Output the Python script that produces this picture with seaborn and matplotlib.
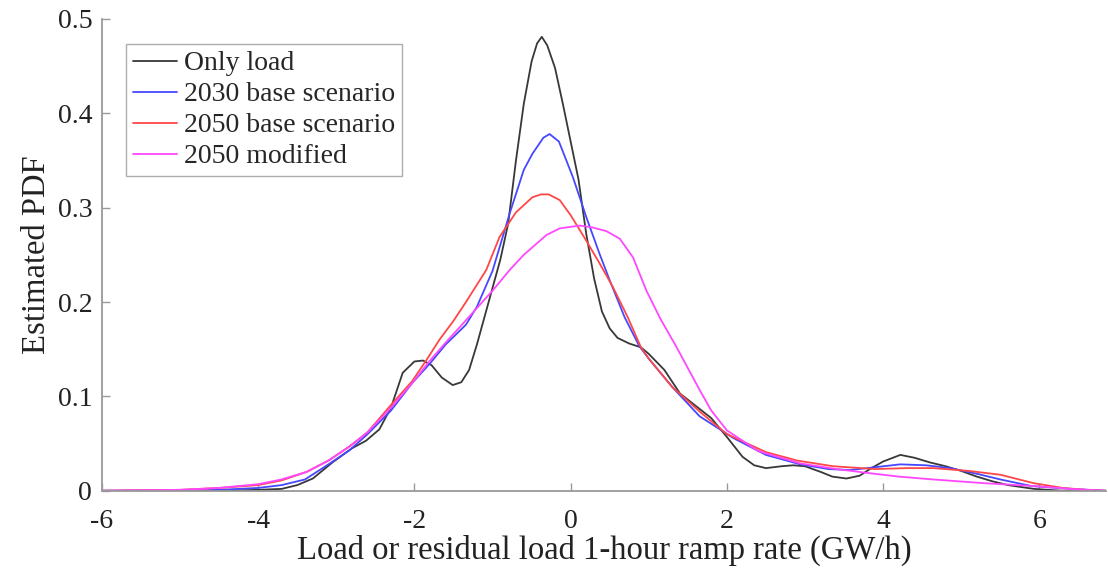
import pandas as pd
import matplotlib.pyplot as plt
import seaborn as sns

# --- Data ---

x_load = [-6, -5, -4.5, -4, -3.7, -3.5, -3.3, -3.05, -2.8, -2.62, -2.45, -2.3, -2.15, -2.0,
          -1.89, -1.78, -1.65, -1.51, -1.4, -1.3, -1.2, -1.1, -1.0, -0.9, -0.8, -0.7, -0.6,
          -0.5, -0.43, -0.37, -0.3, -0.2, -0.1, 0.0, 0.1, 0.2, 0.3, 0.4, 0.5, 0.6, 0.75, 0.9,
          1.0, 1.2, 1.4, 1.6, 1.8, 2.0, 2.2, 2.35, 2.5, 2.7, 2.85, 3.0, 3.2, 3.35, 3.53, 3.7,
          3.85, 4.0, 4.22, 4.4, 4.6, 4.8, 5.0, 5.2, 5.4, 5.6, 5.93, 6.3, 6.85]
y_load = [0, 0, 0, 0.001, 0.002, 0.006, 0.013, 0.03, 0.045, 0.053, 0.065, 0.088, 0.125, 0.137,
          0.138, 0.133, 0.12, 0.112, 0.115, 0.128, 0.155, 0.185, 0.215, 0.245, 0.283, 0.35, 0.41,
          0.455, 0.474, 0.481, 0.472, 0.448, 0.41, 0.37, 0.33, 0.272, 0.225, 0.19, 0.172, 0.162,
          0.156, 0.152, 0.145, 0.128, 0.103, 0.09, 0.077, 0.057, 0.036, 0.027, 0.024, 0.026,
          0.027, 0.026, 0.02, 0.015, 0.013, 0.016, 0.024, 0.031, 0.038, 0.035, 0.03, 0.026,
          0.021, 0.015, 0.01, 0.006, 0.002, 0, 0]

x_2030 = [-6, -5, -4.5, -4, -3.7, -3.4, -3.1, -2.83, -2.6, -2.3, -2.03, -1.8, -1.6, -1.34, -1.2,
          -1.0, -0.78, -0.6, -0.49, -0.35, -0.27, -0.15, 0.03, 0.2, 0.37, 0.5, 0.69, 0.88, 1.0,
          1.3, 1.65, 2.08, 2.5, 2.94, 3.3, 3.58, 3.9, 4.22, 4.55, 4.86, 5.2, 5.5, 5.9, 6.4, 6.85]
y_2030 = [0, 0.0005, 0.001, 0.003, 0.006, 0.012, 0.028, 0.043, 0.06, 0.085, 0.114, 0.135, 0.155,
          0.176, 0.195, 0.233, 0.294, 0.34, 0.357, 0.374, 0.378, 0.37, 0.332, 0.29, 0.251, 0.223,
          0.184, 0.153, 0.14, 0.11, 0.079, 0.056, 0.038, 0.028, 0.023, 0.022, 0.025, 0.028, 0.027,
          0.024, 0.018, 0.012, 0.005, 0.002, 0]

x_2050 = [-6, -5, -4.5, -4, -3.7, -3.38, -3.1, -2.83, -2.6, -2.32, -2.03, -1.85, -1.68, -1.5,
          -1.34, -1.08, -0.91, -0.7, -0.49, -0.38, -0.28, -0.14, 0.0, 0.2, 0.37, 0.54, 0.73,
          0.9, 1.0, 1.3, 1.65, 2.0, 2.5, 2.9, 3.36, 3.9, 4.3, 4.64, 5.1, 5.5, 5.93, 6.3, 6.6, 6.85]
y_2050 = [0, 0.001, 0.003, 0.006, 0.011, 0.02, 0.032, 0.047, 0.062, 0.089, 0.116, 0.138, 0.16,
          0.18, 0.2, 0.234, 0.269, 0.295, 0.311, 0.314, 0.314, 0.308, 0.292, 0.265, 0.241, 0.216,
          0.184, 0.152, 0.14, 0.11, 0.084, 0.06, 0.041, 0.032, 0.026, 0.023, 0.024, 0.024, 0.021,
          0.017, 0.008, 0.003, 0.001, 0]

x_mod = [-6, -5, -4.5, -4, -3.7, -3.38, -3.1, -2.83, -2.6, -2.3, -2.03, -1.8, -1.6, -1.38, -1.0,
         -0.78, -0.6, -0.31, -0.14, 0.115, 0.28, 0.46, 0.63, 0.8, 0.97, 1.15, 1.35, 1.5, 1.65,
         1.8, 2.0, 2.4, 2.94, 3.4, 3.79, 4.2, 4.64, 5.3, 5.93, 6.4, 6.85]
y_mod = [0, 0.001, 0.003, 0.007, 0.012, 0.02, 0.032, 0.047, 0.062, 0.088, 0.114, 0.138, 0.157,
         0.177, 0.212, 0.234, 0.25, 0.271, 0.278, 0.281, 0.279, 0.275, 0.267, 0.247, 0.212,
         0.182, 0.153, 0.13, 0.107, 0.085, 0.064, 0.042, 0.029, 0.023, 0.019, 0.015, 0.012,
         0.008, 0.005, 0.002, 0]

series_names = ['Only load', '2030 base scenario', '2050 base scenario', '2050 modified']
series_colors = ['#383838', '#4747ff', '#ff4747', '#ff47ff']

frames = []
for name, xs, ys in zip(series_names,
                        [x_load, x_2030, x_2050, x_mod],
                        [y_load, y_2030, y_2050, y_mod]):
    frames.append(pd.DataFrame({'ramp': xs, 'pdf': ys, 'series': name}))
df = pd.concat(frames, ignore_index=True)

# --- Plot ---

sns.set_style("ticks")
plt.rcParams['font.family'] = ['Liberation Serif', 'DejaVu Serif']
plt.rcParams['axes.unicode_minus'] = False
plt.rcParams['xtick.direction'] = 'in'
plt.rcParams['ytick.direction'] = 'in'

fig = plt.figure(figsize=(11.08, 5.72), dpi=100)
ax = fig.add_axes([0.092, 0.142, 0.906, 0.825])

sns.lineplot(data=df, x='ramp', y='pdf', hue='series', hue_order=series_names,
             palette=series_colors, sort=False, estimator=None, linewidth=1.3, ax=ax)

ax.set_xlim(-6, 6.85)
ax.set_ylim(0, 0.5)
ax.set_xticks([-6, -4, -2, 0, 2, 4, 6])
ax.set_yticks([0, 0.1, 0.2, 0.3, 0.4, 0.5])
ax.set_yticklabels(['0', '0.1', '0.2', '0.3', '0.4', '0.5'])
ax.set_xlabel('Load or residual load 1-hour ramp rate (GW/h)', fontsize=23.5,
              color='#222222', labelpad=1)
ax.set_ylabel('Estimated PDF', fontsize=23.5, color='#222222', labelpad=4)
ax.tick_params(labelsize=20, length=6, width=1, color='#999999', labelcolor='#222222')
ax.tick_params(axis='x', pad=13)
ax.tick_params(axis='y', pad=7)
for side in ['left', 'bottom']:
    ax.spines[side].set_color('#999999')
    ax.spines[side].set_linewidth(1.3)
sns.despine(ax=ax)

leg = ax.legend(loc='upper left', bbox_to_anchor=(0.024, 0.947), fontsize=20, frameon=True,
                fancybox=False, handlelength=1.6, handletextpad=0.25, labelspacing=0.2,
                borderpad=0.25, borderaxespad=0)
leg.get_frame().set_edgecolor('#999999')
leg.get_frame().set_linewidth(1.0)

fig.savefig('out.png', dpi=100)
